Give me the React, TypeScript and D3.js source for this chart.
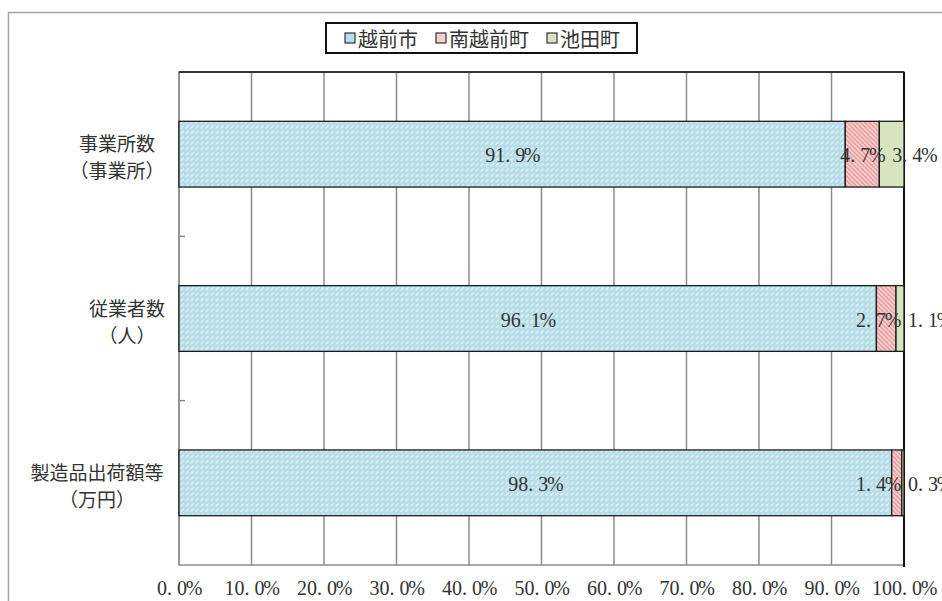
import React from 'react';
import * as d3 from 'd3';

// Share of each municipality (%), per indicator
const categoryNames = ['事業所数', '従業者数', '製造品出荷額等'];
const categoryUnits = ['（事業所）', '（人）', '（万円）'];
const seriesNames = ['越前市', '南越前町', '池田町'];
const echizenShi = [91.9, 96.1, 98.3];
const minamiEchizenCho = [4.7, 2.7, 1.4];
const ikedaCho = [3.4, 1.1, 0.3];
const seriesColors = ['#b7dee8', '#f6cfcf', '#d7e4bd'];
const xTicks = [0, 10, 20, 30, 40, 50, 60, 70, 80, 90, 100];

const W = 942;
const H = 601;
const margin = { left: 179, right: 38, top: 72, bottom: 36 };

const JP_FONT = '"Noto Sans CJK JP", "Noto Sans", sans-serif';
const NUM_FONT = '"Liberation Serif", "DejaVu Serif", serif';
const TEXT = '#333333';

// Half-width cell layout for numeric labels
const cellWidth = (c: string) => (c === '%' ? 14 : 10);
const textWidth = (t: string) => Array.from(t).reduce((s, c) => s + cellWidth(c), 0);

function CellText({ text, cx, cy }: { text: string; cx: number; cy: number }) {
  const chars = Array.from(text);
  let pos = cx - textWidth(text) / 2;
  const xs = chars.map((c) => {
    const w = cellWidth(c);
    const px = pos + w / 2 + (c === '.' ? -2.5 : 0);
    pos += w;
    return px;
  });
  return (
    <text
      x={xs.join(' ')}
      y={cy}
      textAnchor="middle"
      dominantBaseline="central"
      fontFamily={NUM_FONT}
      fontSize={20}
      fill={TEXT}
    >
      {text}
    </text>
  );
}

export default function App() {
  const rows = categoryNames.map((name, i) => ({
    name,
    unit: categoryUnits[i],
    values: [echizenShi[i], minamiEchizenCho[i], ikedaCho[i]],
  }));

  const stack = d3
    .stack<{ values: number[] }, number>()
    .keys([0, 1, 2])
    .value((d, k) => d.values[k])
    .offset(d3.stackOffsetExpand);
  const layers = stack(rows);

  const x = d3.scaleLinear().domain([0, 1]).range([margin.left, W - margin.right]);
  const y = d3
    .scaleBand<string>()
    .domain(categoryNames)
    .range([margin.top, H - margin.bottom])
    .paddingInner(0.6)
    .paddingOuter(0.3);
  const band = d3
    .scaleBand<string>()
    .domain(categoryNames)
    .range([margin.top, H - margin.bottom]);

  const fmt = d3.format('.1f');
  const plotL = x(0);
  const plotR = x(1);
  const plotT = margin.top;
  const plotB = H - margin.bottom;

  // Data labels: centred on their segment; inner labels stay inside the plot,
  // later labels are pushed right when they would collide with the previous one
  const labelRows = rows.map((r, i) => {
    const labels = layers.map((layer, k) => {
      const seg = layer[i];
      const text = fmt(r.values[k]) + '%';
      return { text, cx: (x(seg[0]) + x(seg[1])) / 2, w: textWidth(text) };
    });
    labels.forEach((l, k) => {
      if (k < labels.length - 1) l.cx = Math.min(l.cx, plotR - 4 - l.w / 2);
      if (k > 0) {
        const prev = labels[k - 1];
        l.cx = Math.max(l.cx, prev.cx + prev.w / 2 + 8 + l.w / 2);
      }
    });
    return labels;
  });

  const patternIds = ['pat-blue', 'pat-pink', 'pat-green'];

  return (
    <svg
      width={W}
      height={H}
      style={{ position: 'fixed', left: 0, top: 0, display: 'block', background: '#fff' }}
    >
      <defs>
        <pattern id="pat-blue" width={5} height={5.4} patternUnits="userSpaceOnUse">
          <rect width={5} height={5.4} fill={seriesColors[0]} />
          <line x1={0.6} y1={4.2} x2={3.6} y2={1.2} stroke="#ffffff" strokeWidth={1.1} strokeOpacity={0.75} />
        </pattern>
        <pattern id="pat-pink" width={4.5} height={4.5} patternUnits="userSpaceOnUse">
          <rect width={4.5} height={4.5} fill={seriesColors[1]} />
          <line x1={0} y1={0} x2={4.5} y2={4.5} stroke="#e39494" strokeWidth={1.2} />
          <line x1={-1} y1={3.5} x2={1} y2={5.5} stroke="#e39494" strokeWidth={1.2} />
          <line x1={3.5} y1={-1} x2={5.5} y2={1} stroke="#e39494" strokeWidth={1.2} />
        </pattern>
        <pattern id="pat-green" width={4} height={4} patternUnits="userSpaceOnUse">
          <rect width={4} height={4} fill={seriesColors[2]} />
        </pattern>
      </defs>

      {/* chart frame */}
      <rect x={8.5} y={12.5} width={980} height={640} fill="#fff" stroke="#a6a6a6" strokeWidth={1.5} />

      {/* legend */}
      <g>
        <rect x={326} y={23} width={311} height={30} fill="#fff" stroke="#111" strokeWidth={2} />
        {(() => {
          let cursor = 345;
          return seriesNames.map((name, k) => {
            const sx = cursor;
            const tw = name.length * 20;
            cursor = sx + 13 + tw + 18;
            return (
              <g key={name}>
                <rect x={sx} y={33} width={10} height={10} fill={seriesColors[k]} stroke="#333" strokeWidth={1.2} />
                <text
                  x={sx + 13}
                  y={38.5}
                  dominantBaseline="central"
                  fontFamily={JP_FONT}
                  fontSize={20}
                  fill={TEXT}
                >
                  {name}
                </text>
              </g>
            );
          });
        })()}
      </g>

      {/* plot area and vertical gridlines */}
      <rect x={plotL} y={plotT} width={plotR - plotL} height={plotB - plotT} fill="#fff" stroke="#8c8c8c" strokeWidth={1.5} />
      {xTicks.map((t) => (
        <line key={t} x1={x(t / 100)} x2={x(t / 100)} y1={plotT} y2={plotB} stroke="#8c8c8c" strokeWidth={1.5} />
      ))}
      <line x1={plotL} x2={plotR} y1={plotT} y2={plotT} stroke="#111" strokeWidth={1.5} />
      <line x1={plotR} x2={plotR} y1={plotT} y2={plotB + 2} stroke="#111" strokeWidth={2} />

      {/* category axis ticks */}
      {categoryNames.slice(1).map((c) => (
        <line key={c} x1={plotL} x2={plotL + 6} y1={band(c)!} y2={band(c)!} stroke="#8c8c8c" strokeWidth={1.5} />
      ))}

      {/* stacked bars */}
      {layers.map((layer, k) =>
        layer.map((seg, i) => (
          <rect
            key={`${k}-${i}`}
            x={x(seg[0])}
            y={y(categoryNames[i])!}
            width={x(seg[1]) - x(seg[0])}
            height={y.bandwidth()}
            fill={`url(#${patternIds[k]})`}
            stroke="#1a1a1a"
            strokeWidth={1.3}
          />
        ))
      )}

      {/* data labels */}
      {labelRows.map((labels, i) =>
        labels.map((l, k) => (
          <CellText key={`${i}-${k}`} text={l.text} cx={l.cx} cy={y(categoryNames[i])! + y.bandwidth() / 2 + 1} />
        ))
      )}

      {/* category labels */}
      {rows.map((r) => {
        const cy = band(r.name)! + band.bandwidth() / 2 + 2;
        const blockW = Math.max(r.name.length, r.unit.length) * 20;
        const cx = plotL - 12 - blockW / 2;
        return (
          <g key={r.name} fontFamily={JP_FONT} fontSize={19} fill={TEXT} textAnchor="middle">
            <text x={cx} y={cy - 13.5} dominantBaseline="central">
              {r.name}
            </text>
            <text x={cx} y={cy + 13.5} dominantBaseline="central">
              {r.unit}
            </text>
          </g>
        );
      })}

      {/* value axis labels */}
      {xTicks.map((t) => (
        <CellText key={t} text={fmt(t) + '%'} cx={x(t / 100)} cy={plotB + 23} />
      ))}
    </svg>
  );
}
